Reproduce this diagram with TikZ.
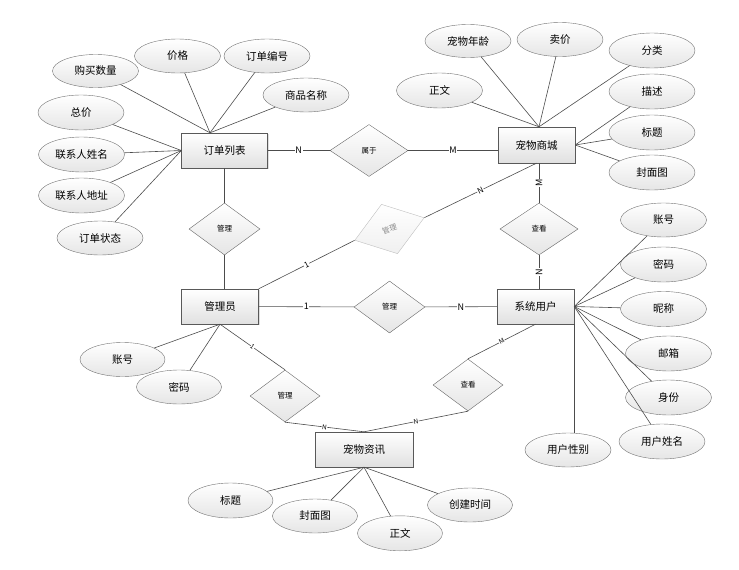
\documentclass[tikz,border=0pt]{standalone}
\usepackage{fontspec}
\setmainfont{Noto Sans CJK SC}
\usetikzlibrary{calc}
\usetikzlibrary{shapes.geometric}
\usetikzlibrary{shadows}

\begin{document}
\begin{tikzpicture}[x=1pt,y=-1pt,
                        ent/.style={rectangle,draw=black!65,top color=white,bottom color=black!12,
                            minimum width=77pt,minimum height=35pt,inner sep=0pt,font=\fontsize{10.5}{12}\selectfont,
                            drop shadow={shadow xshift=1pt,shadow yshift=-1pt,opacity=.25}},
                        attr/.style={ellipse,draw=black!55,top color=white,bottom color=black!10,
                            minimum width=86pt,minimum height=33pt,inner sep=0pt,font=\fontsize{10.5}{12}\selectfont},
                        rel/.style={diamond,draw=black!60,top color=white,bottom color=black!10,
                            minimum width=71pt,minimum height=52pt,inner sep=0pt,font=\fontsize{7.5}{9}\selectfont},
                        link/.style={draw=black!70,line width=0.6pt},
                        lab/.style={fill=white,inner sep=0.5pt,font=\fontsize{9}{10}\selectfont},
                        labsm/.style={fill=white,inner sep=0.3pt,font=\fontsize{6.5}{7}\selectfont}]
                        \useasboundingbox (0,0) rectangle (739,570);
                        % entities
                        \node[ent,minimum width=86pt] (ord) at (224.5,150.5) {订单列表};
                        \node[ent,minimum height=36pt] (mall) at (536.5,145) {宠物商城};
                        \node[ent] (admin) at (220,306.5) {管理员};
                        \node[ent] (user) at (535.5,306.5) {系统用户};
                        \node[ent,minimum width=98pt] (news) at (364,449.5) {宠物资讯};
                        % relations
                        \node[rel,minimum width=78pt] (belong) at (369,150.5) {属于};
                        \node[rel] (mgA) at (224.5,229) {管理};
                        \node[rel,minimum width=73pt,rotate=18,draw=black!25,text=black!45,bottom color=black!6] (mgB) at (389.5,229) {管理};
                        \node[rel,minimum width=78pt] (lookA) at (539,229) {查看};
                        \node[rel] (mgC) at (389.5,307) {管理};
                        \node[rel,minimum width=70pt] (mgD) at (285,396) {管理};
                        \node[rel,minimum width=70pt] (lookB) at (468,385) {查看};
                        % attributes of the order list
                        \node[attr] (oQty) at (95.5,71) {购买数量};
                        \node[attr,minimum height=34pt] (oPrice) at (177.5,56) {价格};
                        \node[attr,minimum height=34pt] (oNum) at (267,56) {订单编号};
                        \node[attr,minimum height=34pt] (oName) at (306,95) {商品名称};
                        \node[attr,minimum height=35pt] (oTotal) at (81,112.5) {总价};
                        \node[attr,minimum height=35pt] (oCName) at (81.5,154.5) {联系人姓名};
                        \node[attr,minimum height=35pt] (oAddr) at (81.5,195.5) {联系人地址};
                        \node[attr,minimum height=34pt] (oState) at (100,238) {订单状态};
                        \coordinate (ordTop) at ($(ord.north)+(-14.5,0)$);
                        \draw[link] (oQty) -- (ordTop);
                        \draw[link] (oPrice) -- (ordTop);
                        \draw[link] (oNum) -- (ordTop);
                        \draw[link] (oName) -- (ordTop);
                        \draw[link] (oTotal) -- (ord.west);
                        \draw[link] (oCName) -- (ord.west);
                        \draw[link] (oAddr) -- (ord.west);
                        \draw[link] (oState) -- (ord.west);
                        % attributes of the pet shop
                        \node[attr] (mAge) at (468,41) {宠物年龄};
                        \node[attr,minimum height=34pt] (mSale) at (560,39.5) {卖价};
                        \node[attr,minimum height=35pt] (mKind) at (652,50.5) {分类};
                        \node[attr,minimum height=35pt] (mText) at (439.5,90.5) {正文};
                        \node[attr,minimum height=35pt] (mDesc) at (652,91.5) {描述};
                        \node[attr,minimum height=35pt] (mTitle) at (652,132.5) {标题};
                        \node[attr,minimum height=35pt] (mCover) at (652,172.5) {封面图};
                        \coordinate (mallTop) at ($(mall.north)+(2.5,0)$);
                        \draw[link] (mAge) -- (mallTop);
                        \draw[link] (mSale) -- (mallTop);
                        \draw[link] (mKind) -- (mallTop);
                        \draw[link] (mText) -- (mallTop);
                        \draw[link] (mDesc) -- (mall.east);
                        \draw[link] (mTitle) -- (mall.east);
                        \draw[link] (mCover) -- (mall.east);
                        % attributes of the user
                        \node[attr,minimum height=34pt] (uAcc) at (663.5,220) {账号};
                        \node[attr,minimum height=35pt] (uPwd) at (663.5,264.5) {密码};
                        \node[attr,minimum height=35pt] (uNick) at (663.5,309) {昵称};
                        \node[attr,minimum height=35pt] (uMail) at (668.5,353.5) {邮箱};
                        \node[attr,minimum height=35pt] (uRole) at (668.5,397.5) {身份};
                        \node[attr,minimum height=35pt] (uName) at (662,441.5) {用户姓名};
                        \node[attr,minimum height=34pt] (uSex) at (568,450) {用户性别};
                        \draw[link] (uAcc) -- (user.east);
                        \draw[link] (uPwd) -- (user.east);
                        \draw[link] (uNick) -- (user.east);
                        \draw[link] (uMail) -- (user.east);
                        \draw[link] (uRole) -- (user.east);
                        \draw[link] (uName) -- (user.east);
                        \draw[link] (user.south east) -- (user.south east |- uSex.north);
                        % attributes of the admin
                        \node[attr,minimum width=85pt,minimum height=34pt] (aAcc) at (122.5,359.5) {账号};
                        \node[attr,minimum width=85pt,minimum height=34pt] (aPwd) at (179,387) {密码};
                        \draw[link] (aAcc) -- (admin.south);
                        \draw[link] (aPwd) -- (admin.south);
                        % attributes of the pet news
                        \node[attr,minimum width=85pt,minimum height=35pt] (nTitle) at (230.5,500.5) {标题};
                        \node[attr,minimum width=85pt,minimum height=34pt] (nCover) at (315,516) {封面图};
                        \node[attr,minimum width=85pt,minimum height=35pt] (nText) at (400,533.3) {正文};
                        \node[attr,minimum width=85pt,minimum height=34pt] (nTime) at (470,505) {创建时间};
                        \draw[link] (nTitle) -- (news.south);
                        \draw[link] (nCover) -- (news.south);
                        \draw[link] (nText) -- (news.south);
                        \draw[link] (nTime) -- (news.south);
                        % relations between entities
                        \draw[link] (ord) -- node[lab]{N} (belong);
                        \draw[link] (belong.east) -- node[lab]{M} (belong.east -| mall.west);
                        \draw[link] (mgA.north) -- (mgA.north |- ord.south);
                        \draw[link] (mgA.south) -- (mgA.south |- admin.north);
                        \draw[link] (admin.north east) -- node[lab,sloped,font=\fontsize{8}{9}\selectfont]{1} (mgB.west);
                        \draw[link] (mgB.east) -- node[lab,sloped,font=\fontsize{8}{9}\selectfont]{N} (mall.south);
                        \draw[link] (lookA.north) -- node[lab,rotate=90]{M} (lookA.north |- mall.south);
                        \draw[link] (lookA.south) -- node[lab,rotate=90]{N} (lookA.south |- user.north);
                        \draw[link] (admin) -- node[lab]{1} (mgC);
                        \draw[link] (mgC) -- node[lab]{N} (user);
                        \draw[link] (admin.south) -- node[labsm,sloped]{1} (mgD.north);
                        \draw[link] (mgD.south) -- node[labsm,sloped]{N} (news.north);
                        \draw[link] (user.south) -- node[labsm,sloped]{M} (lookB.north);
                        \draw[link] (lookB.south) -- node[labsm,sloped]{N} (news.north);
                    \end{tikzpicture}
\end{document}
